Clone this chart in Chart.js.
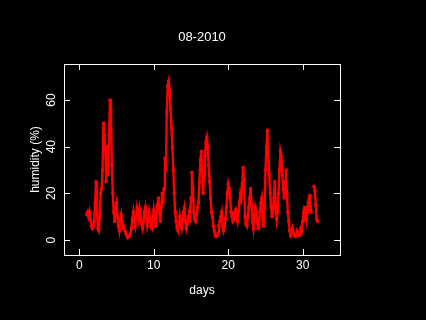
<!DOCTYPE html>
<html>
<head>
<meta charset="utf-8">
<script src="https://cdn.jsdelivr.net/npm/chart.js@4.4.1/dist/chart.umd.min.js"></script>
<style>
  html, body { margin: 0; padding: 0; background: #000; }
  #wrap { width: 426px; height: 320px; }
</style>
</head>
<body>
<div id="wrap"><canvas id="grafico"></canvas></div>
<script>
// humidade a cada 3 horas, começando no dia 1
const diaInicio = 1;
const passoDias = 1 / 8;
const umidade = [
  11, 12, 10, 12, 9, 6, 5, 6,        // dia 1
  8, 16, 25, 12, 5, 4, 10, 20,       // dia 2
  22, 30, 50, 45, 38, 25, 40, 28,    // dia 3
  45, 60, 55, 32, 20, 12, 8, 14,     // dia 4
  16, 10, 6, 4, 9, 11, 8, 5,         // dia 5
  6, 4, 3, 2, 1, 1.5, 2, 3,          // dia 6
  5, 9, 12, 8, 6, 10, 14, 12,        // dia 7
  9, 13, 10, 7, 5, 8, 12, 14,        // dia 8
  10, 6, 8, 12, 9, 6, 5, 9,          // dia 9
  13, 10, 6, 12, 15, 18, 12, 8,      // dia 10
  14, 20, 16, 22, 35, 30, 55, 66,    // dia 11
  68, 64, 56, 48, 40, 30, 20, 12,    // dia 12
  8, 5, 4, 6, 10, 7, 5, 9,           // dia 13
  12, 14, 8, 5, 7, 10, 12, 8,        // dia 14
  18, 29, 22, 12, 9, 8, 11, 14,      // dia 15
  16, 25, 34, 38, 30, 20, 28, 36,    // dia 16
  42, 44, 40, 32, 25, 18, 12, 10,    // dia 17
  6, 4, 2, 1.5, 2, 3, 6, 8,          // dia 18
  10, 12, 6, 4, 6, 9, 14, 20,        // dia 19
  24, 22, 18, 12, 10, 8, 9, 12,      // dia 20
  13, 10, 8, 12, 16, 20, 18, 24,     // dia 21
  31, 26, 10, 7, 6, 10, 14, 18,      // dia 22
  22, 15, 8, 5, 10, 14, 12, 8,       // dia 23
  5, 7, 12, 16, 18, 10, 6, 14,       // dia 24
  30, 40, 47, 38, 28, 20, 14, 10,    // dia 25
  12, 18, 25, 14, 9, 12, 20, 30,     // dia 26
  38, 36, 28, 22, 18, 25, 30, 20,    // dia 27
  12, 8, 4, 2, 3, 5, 3, 2,           // dia 28
  1.5, 2, 4, 3, 2, 3, 5, 4,          // dia 29
  8, 12, 10, 14, 9, 12, 16, 13,      // dia 30
  19, 12, null, null, 23, 21, 15, 9, // dia 31
  8                                  // dia 32
];

const ticksX = [0, 10, 20, 30];
const ticksY = [0, 20, 40, 60];
const titulo = '08-2010';
const rotuloX = 'days';
const rotuloY = 'humidity (%)';

const pontos = umidade.map((v, i) => ({ x: diaInicio + i * passoDias, y: v }));

const fonte = '12px "Liberation Sans", Arial, sans-serif';

// desenha caixa, ticks para dentro e textos no estilo do R
const eixosR = {
  id: 'eixosR',
  beforeDraw(chart) {
    const ctx = chart.ctx;
    ctx.save();
    ctx.fillStyle = '#000';
    ctx.fillRect(0, 0, chart.width, chart.height);
    ctx.restore();
  },
  afterDraw(chart) {
    const ctx = chart.ctx;
    const a = chart.chartArea;
    const sx = chart.scales.x;
    const sy = chart.scales.y;
    const tam = 6;
    ctx.save();
    ctx.strokeStyle = '#fff';
    ctx.lineWidth = 1;
    ctx.strokeRect(a.left + 0.5, a.top + 0.5, a.right - a.left, a.bottom - a.top);

    ctx.beginPath();
    ticksX.forEach(t => {
      const px = Math.round(sx.getPixelForValue(t)) + 0.5;
      ctx.moveTo(px, a.bottom); ctx.lineTo(px, a.bottom - tam);
      ctx.moveTo(px, a.top); ctx.lineTo(px, a.top + tam);
    });
    ticksY.forEach(t => {
      const py = Math.round(sy.getPixelForValue(t)) + 0.5;
      ctx.moveTo(a.left, py); ctx.lineTo(a.left + tam, py);
      ctx.moveTo(a.right, py); ctx.lineTo(a.right - tam, py);
    });
    ctx.stroke();

    ctx.fillStyle = '#fff';
    ctx.font = fonte;
    ctx.textAlign = 'center';
    ctx.textBaseline = 'middle';
    ticksX.forEach(t => {
      ctx.fillText(String(t), sx.getPixelForValue(t), a.bottom + 11);
    });
    ctx.fillText(rotuloX, (a.left + a.right) / 2, 291);
    ctx.font = '13px "Liberation Sans", Arial, sans-serif';
    ctx.fillText(titulo, (a.left + a.right) / 2, 37);

    ctx.font = fonte;
    ticksY.forEach(t => {
      ctx.save();
      ctx.translate(a.left - 12, sy.getPixelForValue(t));
      ctx.rotate(-Math.PI / 2);
      ctx.fillText(String(t), 0, 0);
      ctx.restore();
    });
    ctx.save();
    ctx.translate(36, (a.top + a.bottom) / 2);
    ctx.rotate(-Math.PI / 2);
    ctx.fillText(rotuloY, 0, 0);
    ctx.restore();
    ctx.restore();
  }
};

const grafico = new Chart(document.getElementById('grafico').getContext('2d'), {
  type: 'scatter',
  data: {
    datasets: [
      {
        label: 'humidity',
        data: pontos,
        showLine: true,
        spanGaps: false,
        borderColor: '#ff0000',
        borderWidth: 2.4,
        backgroundColor: '#ff0000',
        pointStyle: 'rect',
        pointRadius: 2.2,
        pointBorderWidth: 0
      }
    ]
  },
  options: {
    responsive: true,
    maintainAspectRatio: false,
    animation: false,
    layout: { padding: { left: 64, top: 64, right: 86, bottom: 65 } },
    scales: {
      x: { type: 'linear', min: -2.05, max: 35, display: false },
      y: { type: 'linear', min: -6.4, max: 75.4, display: false }
    },
    plugins: {
      legend: { display: false },
      tooltip: { enabled: false }
    }
  },
  plugins: [eixosR]
});
</script>
</body>
</html>
